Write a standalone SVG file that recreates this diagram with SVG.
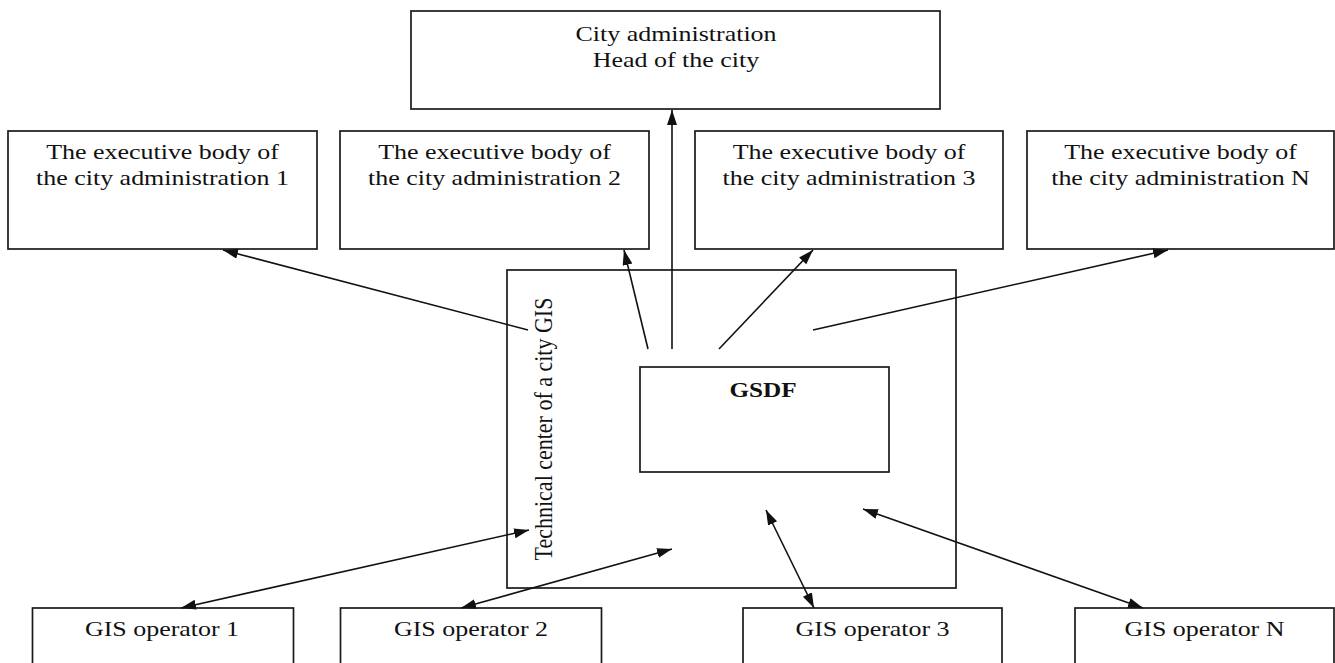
<svg xmlns="http://www.w3.org/2000/svg" width="1335" height="663" viewBox="0 0 1335 663">
  <style>
    .box { fill: #ffffff; stroke: #1a1a1a; stroke-width: 1.7; }
    .t { font-family: "Liberation Serif", "Times New Roman", serif; font-size: 22px; fill: #111111; text-anchor: middle; }
    .b { font-weight: bold; font-size: 21px; }
    .c { stroke: #111111; stroke-width: 1.6; fill: none; }
    .one { marker-end: url(#ah); }
    .two { marker-end: url(#ah); marker-start: url(#ah); }
  </style>
  <defs>
    <marker id="ah" markerUnits="userSpaceOnUse" markerWidth="17" markerHeight="12" refX="15" refY="5" orient="auto-start-reverse">
      <path d="M0,0 L15,5 L0,10 Z" fill="#111111"/>
    </marker>
  </defs>
  <rect width="1335" height="663" fill="#ffffff"/>

  <g id="city-admin">
    <rect class="box" x="411" y="11" width="529" height="98"/>
    <text class="t" transform="translate(676,41) scale(1.18,1)">City administration</text>
    <text class="t" transform="translate(676,67) scale(1.18,1)">Head of the city</text>
  </g>

  <g id="exec-1">
    <rect class="box" x="8" y="131" width="309" height="118"/>
    <text class="t" transform="translate(162.5,159) scale(1.18,1)">The executive body of</text>
    <text class="t" transform="translate(162.5,185) scale(1.18,1)">the city administration 1</text>
  </g>
  <g id="exec-2">
    <rect class="box" x="340" y="131" width="309" height="118"/>
    <text class="t" transform="translate(494.5,159) scale(1.18,1)">The executive body of</text>
    <text class="t" transform="translate(494.5,185) scale(1.18,1)">the city administration 2</text>
  </g>
  <g id="exec-3">
    <rect class="box" x="695" y="131" width="308" height="118"/>
    <text class="t" transform="translate(849,159) scale(1.18,1)">The executive body of</text>
    <text class="t" transform="translate(849,185) scale(1.18,1)">the city administration 3</text>
  </g>
  <g id="exec-n">
    <rect class="box" x="1027" y="131" width="307" height="118"/>
    <text class="t" transform="translate(1180.5,159) scale(1.18,1)">The executive body of</text>
    <text class="t" transform="translate(1180.5,185) scale(1.18,1)">the city administration N</text>
  </g>

  <g id="tech-center">
    <rect class="box" x="507" y="270" width="449" height="318"/>
    <text class="t" transform="translate(552,429) scale(1.18,1) rotate(-90)">Technical center of a city GIS</text>
  </g>

  <g id="gsdf">
    <rect class="box" x="640" y="367" width="249" height="105"/>
    <text class="t b" transform="translate(763,397) scale(1.2,1)">GSDF</text>
  </g>

  <g id="gis-op-1">
    <rect class="box" x="32.5" y="608" width="261" height="70"/>
    <text class="t" transform="translate(162,636) scale(1.18,1)">GIS operator 1</text>
  </g>
  <g id="gis-op-2">
    <rect class="box" x="340.5" y="608" width="261" height="70"/>
    <text class="t" transform="translate(471,636) scale(1.18,1)">GIS operator 2</text>
  </g>
  <g id="gis-op-3">
    <rect class="box" x="743" y="608" width="259" height="70"/>
    <text class="t" transform="translate(872.5,636) scale(1.18,1)">GIS operator 3</text>
  </g>
  <g id="gis-op-n">
    <rect class="box" x="1075" y="608" width="259" height="70"/>
    <text class="t" transform="translate(1204.5,636) scale(1.18,1)">GIS operator N</text>
  </g>

  <g id="connectors">
    <line class="c one" x1="528" y1="330" x2="223" y2="250"/>
    <line class="c one" x1="648" y1="349" x2="624" y2="250"/>
    <line class="c one" x1="672" y1="349" x2="672" y2="110"/>
    <line class="c one" x1="719" y1="349" x2="813" y2="250"/>
    <line class="c one" x1="813" y1="330" x2="1168" y2="250"/>
    <line class="c two" x1="181" y1="608" x2="529" y2="530"/>
    <line class="c two" x1="461" y1="608" x2="672" y2="549"/>
    <line class="c two" x1="814" y1="608" x2="766" y2="510"/>
    <line class="c two" x1="1143" y1="608" x2="863" y2="509"/>
  </g>
</svg>
